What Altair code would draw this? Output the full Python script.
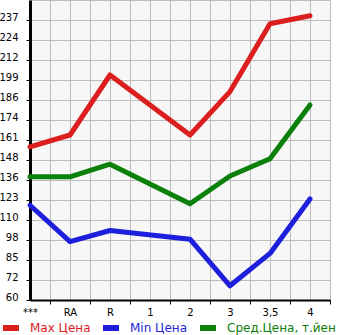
import altair as alt
import pandas as pd

x_labels = ["***", "RA", "R", "1", "2", "3", "3,5", "4"]
series_names = ["Max Цена", "Min Цена", "Сред.Цена, т.йен"]
series_colors = ["#dd1e1e", "#1e1edd", "#0b800b"]

# x index of each observed category ("1" has no data)
x_idx = [0, 1, 2, 4, 5, 6, 7]
max_price = [157, 164.5, 202.5, 164.5, 192, 235, 240]
min_price = [120, 97, 104, 98.5, 69, 89.5, 124]
avg_price = [138, 138, 146, 121, 138.5, 149.5, 183.5]

y_min, y_max, n_steps = 60, 250, 15

rows = []
for name, vals in zip(series_names, [max_price, min_price, avg_price]):
    for xi, v in zip(x_idx, vals):
        rows.append({"series": name, "x": xi, "value": v})
df = pd.DataFrame(rows)

x_vals = [i * 0.5 for i in range(2 * len(x_labels))]
y_vals = [y_min + i * (y_max - y_min) / n_steps for i in range(n_steps + 1)]

label_js = "[" + ",".join("'" + s + "'" for s in x_labels) + "]"
x_label_expr = f"datum.value % 1 === 0 ? {label_js}[datum.value] : ''"

chart = alt.Chart(df).mark_line(strokeWidth=5, strokeCap="round", strokeJoin="round").encode(
    x=alt.X("x:Q",
            scale=alt.Scale(domain=[0, 7.5], nice=False, zero=False),
            axis=alt.Axis(values=x_vals, title=None, grid=True, gridColor="#bdbdbd",
                          gridWidth=1, labelExpr=x_label_expr, labelFontSize=10,
                          labelFont="DejaVu Sans", labelColor="black", labelPadding=3,
                          tickSize=4, tickWidth=1,
                          tickColor={"condition": {"test": "datum.value % 1 === 0", "value": "transparent"}, "value": "black"},
                          domainColor="black", domainWidth=2, labelFlush=False)),
    y=alt.Y("value:Q",
            scale=alt.Scale(domain=[y_min, y_max], nice=False, zero=False),
            axis=alt.Axis(values=y_vals, title=None, grid=True, gridColor="#bdbdbd",
                          gridWidth=1, labelExpr=f"datum.value >= {y_max} ? '' : floor(datum.value + 0.001)",
                          labelFontSize=10, labelFont="DejaVu Sans", labelColor="black",
                          labelBaseline="alphabetic", labelPadding=8, tickSize=4,
                          tickColor={"condition": {"test": f"datum.value >= {y_max}", "value": "transparent"}, "value": "black"},
                          domainColor="black", domainWidth=3, labelFlush=False)),
    color=alt.Color("series:N",
                    scale=alt.Scale(domain=series_names, range=series_colors),
                    sort=series_names,
                    legend=alt.Legend(title=None, orient="none", direction="horizontal",
                                      legendX=-30, legendY=317, symbolType="stroke",
                                      symbolStrokeWidth=6, symbolSize=256, labelFontSize=12,
                                      labelFont="DejaVu Sans", labelOffset=8, columnPadding=0,
                                      padding=0, labelLimit=200,
                                      labelColor={"expr": "scale('color', datum.value)"})),
).properties(
    width=300, height=300,
    autosize=alt.AutoSizeParams(type="none"),
    padding={"left": 30, "top": 0, "right": 15, "bottom": 35},
).configure_view(fill="#f7f7f7", stroke=None)

chart.save("out.html", embed_options={"renderer": "svg", "actions": False})
